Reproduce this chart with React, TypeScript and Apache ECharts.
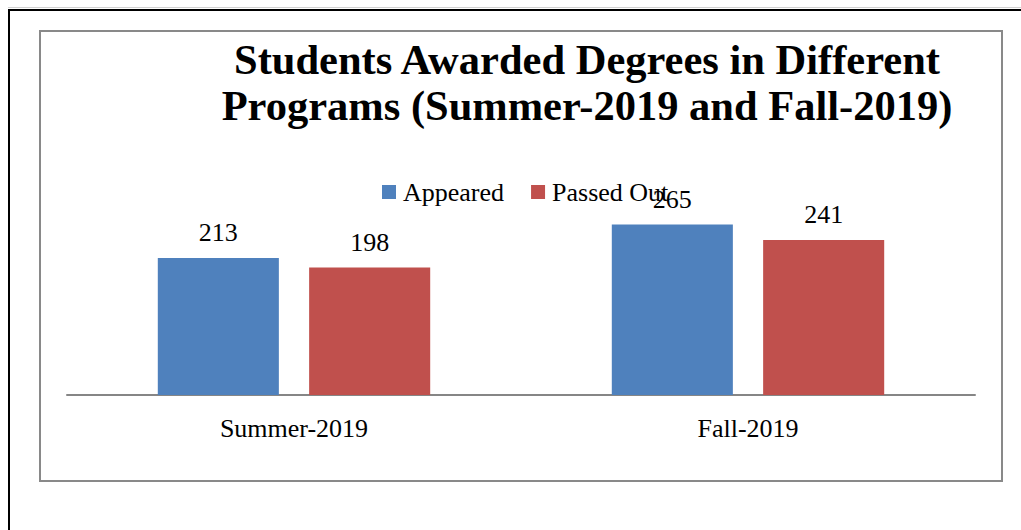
import React, { useEffect, useRef } from "react";
import * as echarts from "echarts";

const categories = ["Summer-2019", "Fall-2019"];
const appeared = [213, 265];
const passedOut = [198, 241];
const seriesNames = ["Appeared", "Passed Out"];
const titleText = "Students Awarded Degrees in Different\nPrograms (Summer-2019 and Fall-2019)";

const FONT = "'Liberation Serif', 'Times New Roman', serif";

export default function App() {
  const ref = useRef<HTMLDivElement>(null);
  useEffect(() => {
    if (!ref.current) return;
    const chart = echarts.init(ref.current, undefined, { renderer: "svg" });
    const labelStyle = {
      show: true,
      position: "top",
      distance: 12,
      color: "#000",
      fontFamily: FONT,
      fontSize: 26,
    };
    chart.setOption({
      animation: false,
      backgroundColor: "#fff",
      graphic: [
        { type: "line", shape: { x1: 8, y1: 7.5, x2: 1021, y2: 7.5 }, style: { stroke: "#d0d0d0", lineWidth: 1 } },
        { type: "rect", shape: { x: 9, y: 10, width: 1100, height: 600 }, style: { fill: "none", stroke: "#000", lineWidth: 2 } },
        { type: "rect", shape: { x: 40, y: 31, width: 962, height: 450 }, style: { fill: "none", stroke: "#898989", lineWidth: 2 } },
      ],
      title: {
        text: titleText,
        left: 582,
        top: 31,
        textAlign: "center",
        textStyle: {
          fontFamily: FONT,
          fontWeight: "bold",
          fontSize: 42.5,
          lineHeight: 46,
          color: "#000",
        },
      },
      legend: {
        data: seriesNames,
        left: 377,
        top: 174,
        itemWidth: 14,
        itemHeight: 14,
        itemGap: 27,
        icon: "rect",
        textStyle: { fontFamily: FONT, fontSize: 26, color: "#000", padding: [0, 0, 0, 2] },
        z: 10,
      },
      grid: { left: 67, right: 46, top: 202, bottom: 135 },
      xAxis: {
        type: "category",
        data: categories,
        axisLine: { show: true, lineStyle: { color: "#868686", width: 2 } },
        axisTick: { show: false },
        axisLabel: { color: "#000", fontFamily: FONT, fontSize: 26, margin: 20 },
      },
      yAxis: {
        type: "value",
        min: 0,
        max: 300,
        show: false,
        splitLine: { show: false },
      },
      series: [
        {
          name: seriesNames[0],
          type: "bar",
          data: appeared,
          itemStyle: { color: "#4F81BD" },
          barCategoryGap: "40%",
          barGap: "25%",
          label: labelStyle,
        },
        {
          name: seriesNames[1],
          type: "bar",
          data: passedOut,
          itemStyle: { color: "#C0504D" },
          barCategoryGap: "40%",
          barGap: "25%",
          label: labelStyle,
        },
      ],
    });
    return () => chart.dispose();
  }, []);
  return (
    <div
      ref={ref}
      style={{ position: "absolute", left: 0, top: 0, width: 1021, height: 530 }}
    />
  );
}
